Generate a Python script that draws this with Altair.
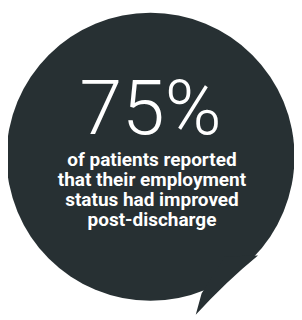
import altair as alt
import pandas as pd

# content
headline = ["75%"]
body_lines = [
    "of patients reported",
    "that their employment",
    "status had improved",
    "post-discharge",
]

BG = "#273033"
OFF = 8  # page margin

bubble = pd.DataFrame({"shape": ["circle"]})
tail = pd.DataFrame({"shape": ["tail"]})
head_df = pd.DataFrame({"t": headline})
body_df = pd.DataFrame({"t": body_lines, "line": list(range(len(body_lines)))})

circle = alt.Chart(bubble).mark_point(
    shape="circle", filled=True, color=BG, opacity=1, strokeWidth=0
).encode(
    x=alt.value(154.5 - OFF), y=alt.value(156.5 - OFF), size=alt.value(296 ** 2)
)

tail_mark = alt.Chart(tail).mark_point(
    shape="M0,0 L6,-22 L30,-60 L64,-61 Q31,-34 0,0 Z",
    filled=True, color=BG, opacity=1, strokeWidth=0
).encode(
    x=alt.value(201 - OFF), y=alt.value(319 - OFF), size=alt.value(4)
)

head = alt.Chart(head_df).mark_text(
    font="Roboto", fontWeight=300, fontSize=79, color="white",
    baseline="alphabetic", align="center"
).encode(
    x=alt.value(154.5 - OFF), y=alt.value(133 - OFF), text="t:N"
)

body = alt.Chart(body_df).mark_text(
    font="Roboto", fontWeight="bold", fontSize=19.5, color="white",
    baseline="alphabetic", align="center"
).encode(
    x=alt.value(156 - OFF),
    y=alt.Y("line:Q", axis=None,
            scale=alt.Scale(domain=[0, 3], range=[166.5 - OFF, 227.5 - OFF])),
    text="t:N",
)

chart = alt.layer(circle, tail_mark, head, body).properties(
    width=294, height=312,
    autosize=alt.AutoSizeParams(type="none"),
    padding=0,
).configure_view(stroke=None)

chart.save("out.html", embed_options={"renderer": "svg", "actions": False})
